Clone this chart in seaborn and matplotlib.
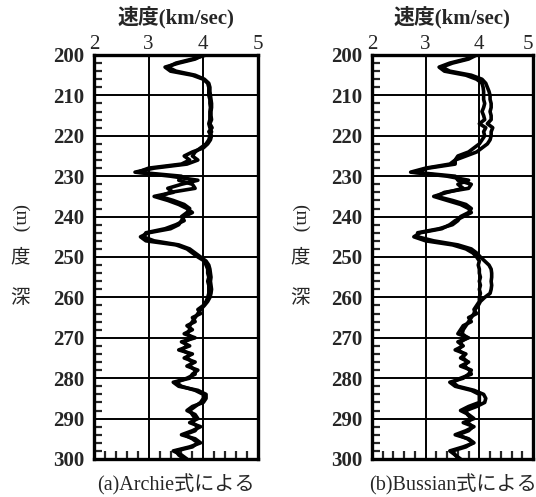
import numpy as np
import pandas as pd
import seaborn as sns
import matplotlib.pyplot as plt
from matplotlib.ticker import MultipleLocator

# ---------------- data ----------------
depth = list(range(200, 301))

archie_1 = [4.00, 3.85, 3.55, 3.30, 3.40, 3.80, 4.00, 4.08, 4.10, 4.10,
            4.10, 4.12, 4.12, 4.13, 4.12, 4.12, 4.12, 4.10, 4.12, 4.15,
            4.12, 4.10, 4.05, 3.95, 3.85, 3.80, 3.90, 3.70, 3.10, 2.75,
            3.40, 3.90, 3.60, 3.35, 3.45, 3.10, 3.35, 3.55, 3.70, 3.80,
            3.65, 3.60, 3.55, 3.40, 3.00, 2.85, 2.95, 3.50, 3.70, 3.80,
            3.90, 4.02, 4.05, 4.08, 4.08, 4.10, 4.08, 4.10, 4.10, 4.10,
            4.08, 4.05, 4.00, 3.90, 3.95, 3.80, 3.85, 3.70, 3.80, 3.65,
            3.85, 3.60, 3.75, 3.55, 3.80, 3.65, 3.85, 3.70, 3.90, 3.80,
            3.75, 3.45, 3.55, 3.90, 4.05, 4.05, 4.00, 3.80, 3.70, 3.85,
            3.90, 3.75, 3.95, 3.80, 3.60, 3.85, 3.95, 3.75, 3.45, 3.60,
            3.70]
archie_2 = [4.05, 3.80, 3.50, 3.35, 3.50, 3.85, 4.02, 4.10, 4.12, 4.12,
            4.13, 4.14, 4.15, 4.15, 4.14, 4.14, 4.15, 4.12, 4.16, 4.10,
            4.15, 4.13, 4.08, 4.00, 3.80, 3.65, 3.75, 3.60, 3.00, 2.80,
            3.60, 3.55, 3.80, 3.85, 3.40, 3.20, 3.45, 3.65, 3.75, 3.70,
            3.60, 3.65, 3.50, 3.30, 2.95, 2.90, 3.10, 3.55, 3.75, 3.85,
            3.95, 4.05, 4.10, 4.12, 4.13, 4.14, 4.13, 4.14, 4.15, 4.14,
            4.12, 4.08, 4.02, 3.95, 3.90, 3.85, 3.80, 3.75, 3.75, 3.70,
            3.80, 3.65, 3.70, 3.60, 3.75, 3.70, 3.80, 3.75, 3.85, 3.85,
            3.70, 3.50, 3.60, 3.85, 4.00, 4.00, 3.95, 3.85, 3.75, 3.80,
            3.85, 3.80, 3.90, 3.85, 3.65, 3.80, 3.90, 3.80, 3.50, 3.55,
            3.65]
bussian_1 = [3.90, 3.75, 3.45, 3.25, 3.35, 3.75, 3.95, 4.05, 4.07, 4.08,
             4.08, 4.08, 4.10, 4.08, 4.05, 4.08, 4.10, 4.00, 4.12, 4.08,
             4.10, 4.05, 4.00, 3.90, 3.80, 3.60, 3.55, 3.45, 3.00, 2.72,
             3.40, 3.80, 3.60, 3.70, 3.40, 3.15, 3.40, 3.65, 3.80, 3.85,
             3.70, 3.55, 3.45, 3.30, 2.90, 2.78, 3.00, 3.50, 3.75, 3.88,
             3.95, 4.00, 3.98, 4.00, 4.00, 4.02, 4.00, 4.02, 4.00, 4.02,
             4.00, 4.00, 3.95, 3.90, 3.95, 3.80, 3.85, 3.70, 3.65, 3.60,
             3.80, 3.60, 3.70, 3.55, 3.75, 3.65, 3.80, 3.65, 3.85, 3.80,
             3.70, 3.45, 3.55, 3.85, 4.00, 4.00, 4.00, 3.80, 3.65, 3.80,
             3.90, 3.70, 3.90, 3.75, 3.55, 3.80, 3.90, 3.70, 3.45, 3.55,
             3.65]
bussian_2 = [3.95, 3.80, 3.50, 3.30, 3.45, 3.85, 4.05, 4.12, 4.15, 4.18,
             4.20, 4.20, 4.22, 4.22, 4.20, 4.22, 4.22, 4.15, 4.25, 4.22,
             4.22, 4.20, 4.15, 4.05, 3.95, 3.75, 3.55, 3.55, 3.05, 2.78,
             3.55, 3.60, 3.85, 3.80, 3.35, 3.20, 3.50, 3.75, 3.85, 3.80,
             3.65, 3.60, 3.50, 3.25, 2.85, 2.85, 3.15, 3.60, 3.85, 3.95,
             4.02, 4.10, 4.18, 4.22, 4.23, 4.23, 4.22, 4.23, 4.22, 4.20,
             4.10, 4.02, 3.98, 3.92, 3.90, 3.85, 3.80, 3.75, 3.70, 3.68,
             3.78, 3.65, 3.68, 3.60, 3.72, 3.70, 3.78, 3.72, 3.82, 3.85,
             3.65, 3.50, 3.60, 3.90, 4.08, 4.12, 4.10, 3.95, 3.75, 3.78,
             3.85, 3.78, 3.88, 3.80, 3.60, 3.78, 3.88, 3.75, 3.50, 3.55,
             3.62]

x_ticks = [2, 3, 4, 5]
y_ticks = [200, 210, 220, 230, 240, 250, 260, 270, 280, 290, 300]
panel_labels = ["(a)Archie式による", "(b)Bussian式による"]
x_title = "速度(km/sec)"
y_label_chars = ["深", "度", "(m)"]

frames = []
for panel, pairs in enumerate([(archie_1, archie_2), (bussian_1, bussian_2)]):
    for k, vals in enumerate(pairs):
        frames.append(pd.DataFrame({"depth": depth, "velocity": vals,
                                    "series": k, "panel": panel}))
df = pd.concat(frames, ignore_index=True)

# ---------------- figure ----------------
sns.set_style("white")
plt.rcParams["font.family"] = ["Liberation Serif", "Noto Sans CJK JP"]

W, H = 536, 497
fig = plt.figure(figsize=(W / 100, H / 100), dpi=100)

def fx(px):
    return px / W

def fy(py):
    return 1 - py / H

axes_px = [(94, 258), (372, 533)]
top_px, bot_px = 55, 459

serif = ["Liberation Serif", "Noto Sans CJK JP"]

for panel, (l, r) in enumerate(axes_px):
    ax = fig.add_axes([fx(l), fy(bot_px), fx(r - l), (bot_px - top_px) / H])
    sub = df[df["panel"] == panel]
    sns.lineplot(data=sub, x="velocity", y="depth", units="series",
                 estimator=None, sort=False, color="black", linewidth=2.6,
                 ax=ax, legend=False)
    ax.set_xlim(2, 5)
    ax.set_ylim(300, 200)
    ax.set_xticks(x_ticks)
    ax.set_yticks(y_ticks)
    ax.xaxis.set_minor_locator(MultipleLocator(0.2))
    ax.yaxis.set_minor_locator(MultipleLocator(2))
    ax.xaxis.tick_top()
    ax.tick_params(axis="x", which="major", length=0, pad=1, labelsize=15,
                   top=True, bottom=False)
    ax.tick_params(axis="x", which="minor", direction="in", length=6,
                   width=1.6, top=False, bottom=True)
    ax.tick_params(axis="y", which="major", length=0, pad=7, labelsize=15)
    ax.tick_params(axis="y", which="minor", direction="in", length=6,
                   width=1.6, left=True, right=False)
    for t in ax.get_yticklabels():
        t.set_fontweight("bold")
    if panel == 1:
        xl = ax.get_xticklabels()
        xl[-1].set_horizontalalignment("right")
        xl[-1].set_x(5.03)
    ax.grid(True, which="major", color="black", linewidth=1.4)
    for s in ax.spines.values():
        s.set_visible(True)
        s.set_color("black")
        s.set_linewidth(2.4)
    ax.set_xlabel("")
    ax.set_ylabel("")

    cx = (l + r) / 2
    fig.text(fx(cx), fy(17), x_title, ha="center", va="center",
             fontsize=15, fontweight="bold", family=serif)
    fig.text(fx(cx), fy(485), panel_labels[panel], ha="center", va="center",
             fontsize=14.5, family=serif)

    lx = 20 if panel == 0 else 300
    fig.text(fx(lx), fy(298), y_label_chars[0], ha="center", va="center",
             fontsize=14, family=serif)
    fig.text(fx(lx), fy(258), y_label_chars[1], ha="center", va="center",
             fontsize=14, family=serif)
    fig.text(fx(lx), fy(218), y_label_chars[2], ha="center", va="center",
             fontsize=14, rotation=-90, family=serif)

fig.savefig("out.png", dpi=100)
